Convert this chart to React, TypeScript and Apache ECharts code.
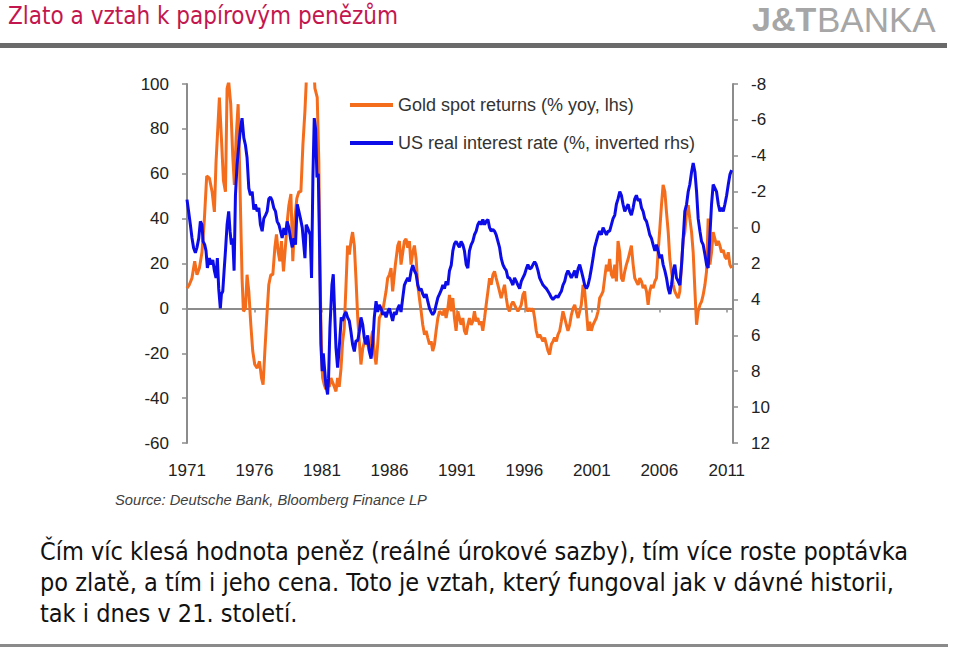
import React, { useEffect, useRef } from "react";
import * as echarts from "echarts";

const titleText = "Zlato a vztah k papírovým penězům";
const bodyLines = [
  "Čím víc klesá hodnota peněz (reálné úrokové sazby), tím více roste poptávka",
  "po zlatě, a tím i jeho cena. Toto je vztah, který fungoval jak v dávné historii,",
  "tak i dnes v 21. století.",
];
const sourceText = "Source: Deutsche Bank, Bloomberg Finance LP";
const goldName = "Gold spot returns (% yoy, lhs)";
const rateName = "US real interest rate (%, inverted rhs)";

const xTickYears = [1971, 1976, 1981, 1986, 1991, 1996, 2001, 2006, 2011];
const leftTicks = [-60, -40, -20, 0, 20, 40, 60, 80, 100];
const rightTicks = [-8, -6, -4, -2, 0, 2, 4, 6, 8, 10, 12];

// [year, % yoy]
const goldSeries: [number, number][] = [
  [1971.0, 9], [1971.17, 10.5], [1971.37, 13.5], [1971.57, 21], [1971.74, 15], [1971.92, 18],
  [1972.11, 25], [1972.29, 40], [1972.46, 59], [1972.66, 58], [1972.86, 52], [1973.03, 43],
  [1973.15, 65], [1973.28, 80], [1973.4, 94], [1973.55, 76], [1973.7, 57], [1973.85, 52],
  [1973.97, 98], [1974.09, 101], [1974.24, 91], [1974.39, 68], [1974.51, 55], [1974.64, 76],
  [1974.79, 91], [1974.89, 65], [1974.98, 40], [1975.08, 13.5], [1975.18, -1.3], [1975.33, 0],
  [1975.45, 15], [1975.58, 7.6], [1975.73, -7.3], [1975.87, -19], [1976.02, -25], [1976.2, -26.6],
  [1976.37, -23.6], [1976.52, -31], [1976.64, -34], [1976.77, -19], [1976.91, -4.3], [1977.06, 10.5],
  [1977.21, 15], [1977.36, 15], [1977.51, 27], [1977.63, 33], [1977.76, 25], [1977.88, 21],
  [1978.0, 30], [1978.15, 16.5], [1978.3, 28], [1978.45, 40], [1978.55, 46], [1978.7, 51],
  [1978.84, 21], [1978.99, 40], [1979.14, 49], [1979.29, 52], [1979.44, 52], [1979.59, 73],
  [1979.74, 88], [1979.83, 100], [1980.03, 130], [1980.23, 125], [1980.48, 98], [1980.65, 94],
  [1980.77, 65], [1980.85, 20], [1980.92, -5], [1981.0, -25], [1981.05, -31], [1981.17, -34],
  [1981.29, -36], [1981.42, -33], [1981.54, -35], [1981.67, -31], [1981.79, -33], [1981.92, -35],
  [1982.04, -37], [1982.16, -31], [1982.28, -35], [1982.41, -27], [1982.53, -15], [1982.65, -9],
  [1982.78, 10], [1982.9, 28], [1983.03, 24], [1983.15, 30], [1983.27, 34], [1983.4, 28],
  [1983.52, 13.5], [1983.65, -4], [1983.77, -15], [1983.89, -25], [1984.02, -18], [1984.14, -15],
  [1984.26, -13], [1984.39, -16], [1984.51, -19], [1984.64, -14], [1984.76, -10], [1984.88, -20],
  [1985.01, -25], [1985.13, -16], [1985.25, -4.3], [1985.5, -1.3], [1985.75, 7.6], [1985.87, 13.5],
  [1986.0, 15], [1986.12, 18], [1986.24, 7.6], [1986.44, 19.5], [1986.62, 28], [1986.74, 30],
  [1986.86, 19.5], [1986.99, 25], [1987.11, 30], [1987.23, 31], [1987.36, 27], [1987.48, 30],
  [1987.6, 19.5], [1987.73, 25], [1987.85, 28], [1987.98, 22], [1988.1, 10.5], [1988.22, 4.6],
  [1988.35, -1.3], [1988.47, -7.3], [1988.6, -11.7], [1988.72, -10], [1988.84, -13], [1988.97, -16],
  [1989.09, -14.7], [1989.21, -19], [1989.34, -16], [1989.46, -10], [1989.59, -4.3], [1989.71, -1.3],
  [1989.83, -2], [1989.96, -3], [1990.08, 0], [1990.2, -4.3], [1990.33, 0], [1990.45, 6],
  [1990.58, -1.3], [1990.7, 4.6], [1990.82, -4.3], [1990.94, -10], [1991.07, -1.3], [1991.19, -4.3],
  [1991.31, -7.3], [1991.44, -4.3], [1991.56, -10], [1991.69, -11.7], [1991.81, -7.3], [1991.93, -4.3],
  [1992.06, -7.3], [1992.18, -5.8], [1992.3, -1.3], [1992.43, -5.8], [1992.55, -4.3], [1992.68, -7.3],
  [1992.8, -5.8], [1992.92, -10], [1993.05, -4.3], [1993.17, 1.6], [1993.3, 7.6], [1993.42, 13.5],
  [1993.54, 10.5], [1993.67, 15], [1993.79, 16.5], [1993.91, 13.5], [1994.04, 10.5], [1994.16, 7.6],
  [1994.28, 4.6], [1994.41, 7.6], [1994.53, 10.5], [1994.66, 4.6], [1994.78, 0], [1994.9, -1.3],
  [1995.03, 1.6], [1995.15, 3], [1995.27, 1.6], [1995.4, 0], [1995.52, -1.3], [1995.65, 0],
  [1995.77, 1.6], [1995.89, 6], [1996.02, 7.6], [1996.14, 0], [1996.26, -1.3], [1996.39, 0],
  [1996.51, -1.3], [1996.64, 0], [1996.76, -4.3], [1996.88, -10], [1997.01, -13], [1997.13, -11.7],
  [1997.25, -13], [1997.38, -14.7], [1997.5, -13], [1997.63, -16], [1997.75, -19], [1997.87, -20.6],
  [1998.0, -16], [1998.12, -14.7], [1998.24, -13], [1998.37, -14.7], [1998.49, -11.7], [1998.62, -10],
  [1998.74, -5.8], [1998.86, -1.3], [1998.99, -4.3], [1999.11, -7.3], [1999.23, -10], [1999.36, -7.3],
  [1999.48, -3], [1999.61, 0], [1999.73, 1.6], [1999.85, -1.3], [1999.98, -4.3], [2000.1, -1.3],
  [2000.22, 1.6], [2000.35, 10.5], [2000.47, 7.6], [2000.6, -1.3], [2000.72, -10], [2000.84, -6],
  [2000.96, -10], [2001.09, -7.3], [2001.21, -5.8], [2001.33, -4.3], [2001.46, -1.3], [2001.58, 4.6],
  [2001.71, 6], [2001.83, 7.6], [2001.95, 13.5], [2002.08, 19.5], [2002.2, 16.5], [2002.32, 22],
  [2002.45, 15], [2002.57, 13.5], [2002.7, 19.5], [2002.82, 12], [2002.94, 30], [2003.07, 25],
  [2003.19, 13.5], [2003.31, 12], [2003.44, 16.5], [2003.56, 19.5], [2003.69, 22], [2003.81, 25],
  [2003.93, 28], [2004.06, 19.5], [2004.18, 13.5], [2004.3, 12], [2004.43, 10.5], [2004.55, 13.5],
  [2004.68, 12], [2004.8, 9], [2004.92, 10.5], [2005.05, 7.6], [2005.17, 1.6], [2005.29, 7.6],
  [2005.42, 10.5], [2005.54, 9], [2005.67, 12], [2005.79, 13.5], [2005.91, 25], [2006.04, 35.8],
  [2006.16, 46], [2006.28, 55], [2006.41, 52], [2006.53, 43], [2006.66, 34], [2006.78, 22],
  [2006.9, 16.5], [2007.03, 10.5], [2007.15, 7.6], [2007.27, 6], [2007.4, 4.6], [2007.52, 7.6],
  [2007.65, 19.5], [2007.77, 31], [2007.89, 34], [2008.02, 43], [2008.14, 46], [2008.26, 40],
  [2008.39, 34], [2008.51, 25], [2008.64, 7.6], [2008.76, -7.3], [2008.88, -1.3], [2009.01, 1.6],
  [2009.13, 3], [2009.25, 6], [2009.38, 10.5], [2009.5, 16.5], [2009.62, 40], [2009.75, 19.5],
  [2009.87, 25], [2009.99, 34], [2010.12, 31], [2010.24, 28], [2010.37, 30], [2010.49, 28],
  [2010.61, 25], [2010.74, 26], [2010.86, 23], [2010.99, 22], [2011.11, 25], [2011.23, 19.5],
  [2011.36, 18],
];

// [year, real rate %] plotted on the inverted right axis
const rateSeries: [number, number][] = [
  [1971.0, -1.56], [1971.12, -0.9], [1971.25, -0.16], [1971.37, 0.58], [1971.49, 1.14], [1971.62, 1.4],
  [1971.74, 1.1], [1971.87, 0.6], [1971.99, -0.35], [1972.11, -0.16], [1972.19, 0.77], [1972.31, 0.95],
  [1972.41, 1.3], [1972.51, 2.25], [1972.66, 1.7], [1972.78, 2.06], [1972.91, 1.8], [1973.03, 2.4],
  [1973.15, 2.8], [1973.25, 1.7], [1973.35, 3.4], [1973.47, 4.5], [1973.55, 3.7], [1973.65, 3.55],
  [1973.75, 2.4], [1973.85, 1.3], [1973.97, -0.16], [1974.09, -0.9], [1974.19, 0.2], [1974.29, 0.95],
  [1974.39, 0.6], [1974.49, 2.4], [1974.59, -1.8], [1974.71, -3.5], [1974.84, -4.6], [1974.96, -5.5],
  [1975.08, -6.1], [1975.21, -5.0], [1975.33, -4.6], [1975.45, -3.9], [1975.58, -2.2], [1975.7, -1.8],
  [1975.83, -2.0], [1975.95, -1.0], [1976.07, -1.3], [1976.2, -0.9], [1976.32, -1.1], [1976.44, -0.16],
  [1976.57, 0.2], [1976.69, -0.5], [1976.82, -0.7], [1976.94, -0.9], [1977.06, -1.6], [1977.19, -1.7],
  [1977.31, -1.5], [1977.43, -1.1], [1977.56, -0.9], [1977.68, -0.35], [1977.81, -0.16], [1977.93, 0.2],
  [1978.05, 0.58], [1978.18, 0.02], [1978.3, 0.4], [1978.42, -0.35], [1978.55, 0.0], [1978.67, 0.6],
  [1978.8, 1.1], [1978.92, 0.6], [1979.04, 0.95], [1979.17, -1.3], [1979.29, -0.9], [1979.41, -0.5],
  [1979.54, 0], [1979.61, 0.6], [1979.74, 1.7], [1979.83, -0.16], [1979.93, 0.0], [1980.03, 0.2],
  [1980.13, 0.4], [1980.23, 2.8], [1980.33, -2.8], [1980.43, -6.1], [1980.53, -5.5], [1980.63, -2.8],
  [1980.73, -3.0], [1980.82, 0.95], [1980.92, 6.5], [1981.02, 8.0], [1981.1, 7.0], [1981.29, 8.75],
  [1981.42, 9.3], [1981.49, 8.4], [1981.59, 5.6], [1981.74, 3.2], [1981.84, 2.6], [1981.94, 4.7],
  [1982.04, 6.7], [1982.16, 7.8], [1982.24, 7.1], [1982.33, 6.15], [1982.43, 5.0], [1982.53, 5.2],
  [1982.66, 4.85], [1982.78, 4.7], [1982.9, 5.0], [1983.03, 5.2], [1983.15, 5.8], [1983.27, 6.5],
  [1983.4, 6.9], [1983.52, 6.3], [1983.65, 6.3], [1983.77, 5.8], [1983.89, 5.0], [1984.02, 5.4],
  [1984.14, 6.15], [1984.26, 6.5], [1984.39, 6.0], [1984.51, 6.9], [1984.64, 7.3], [1984.76, 6.5],
  [1984.88, 5.0], [1985.01, 4.1], [1985.13, 4.7], [1985.25, 4.3], [1985.38, 4.5], [1985.5, 4.85],
  [1985.63, 4.7], [1985.75, 5.0], [1985.87, 4.7], [1986.0, 4.5], [1986.12, 4.85], [1986.24, 5.2],
  [1986.37, 4.7], [1986.49, 4.85], [1986.62, 4.5], [1986.74, 4.3], [1986.86, 4.7], [1986.99, 3.9],
  [1987.11, 3.2], [1987.23, 3.0], [1987.36, 2.8], [1987.48, 3.0], [1987.61, 2.4], [1987.73, 2.1],
  [1987.85, 2.4], [1987.98, 2.6], [1988.1, 3.2], [1988.22, 3.5], [1988.35, 3.4], [1988.47, 3.7],
  [1988.6, 3.9], [1988.72, 3.7], [1988.84, 4.1], [1988.97, 4.5], [1989.09, 4.7], [1989.21, 4.85],
  [1989.34, 4.7], [1989.46, 4.3], [1989.59, 3.9], [1989.71, 3.7], [1989.83, 3.5], [1989.96, 3.2],
  [1990.08, 3.4], [1990.2, 3.0], [1990.33, 3.2], [1990.45, 2.4], [1990.58, 2.1], [1990.7, 1.3],
  [1990.82, 0.9], [1990.94, 0.77], [1991.07, 0.95], [1991.19, 1.1], [1991.31, 0.77], [1991.44, 0.95],
  [1991.56, 1.3], [1991.69, 2.06], [1991.81, 2.25], [1991.93, 1.3], [1992.06, 0.95], [1992.18, 0.77],
  [1992.3, 0.4], [1992.43, 0.2], [1992.55, -0.16], [1992.68, -0.35], [1992.8, -0.16], [1992.92, -0.45],
  [1993.05, -0.16], [1993.17, -0.35], [1993.3, -0.45], [1993.42, 0.0], [1993.54, 0.2], [1993.67, 0.1],
  [1993.79, 0.2], [1993.91, 0.4], [1994.04, 0.77], [1994.16, 1.1], [1994.28, 1.7], [1994.41, 2.06],
  [1994.53, 2.25], [1994.66, 2.4], [1994.78, 2.8], [1994.9, 2.8], [1995.03, 3.0], [1995.15, 3.2],
  [1995.27, 2.8], [1995.4, 3.0], [1995.52, 3.2], [1995.65, 3.4], [1995.77, 3.0], [1995.89, 2.8],
  [1996.02, 2.6], [1996.14, 2.3], [1996.26, 2.06], [1996.39, 2.3], [1996.51, 2.25], [1996.64, 2.06],
  [1996.76, 1.9], [1996.88, 2.06], [1997.01, 2.4], [1997.13, 2.8], [1997.25, 3.0], [1997.38, 3.2],
  [1997.5, 3.3], [1997.63, 3.4], [1997.75, 3.55], [1997.87, 3.7], [1998.0, 3.9], [1998.12, 4.0],
  [1998.24, 3.9], [1998.37, 3.8], [1998.49, 3.9], [1998.62, 3.7], [1998.74, 3.55], [1998.86, 3.2],
  [1998.99, 3.0], [1999.11, 2.6], [1999.23, 2.4], [1999.36, 2.6], [1999.48, 2.8], [1999.61, 2.6],
  [1999.73, 2.4], [1999.85, 2.8], [1999.98, 2.3], [2000.1, 2.06], [2000.22, 2.4], [2000.35, 2.8],
  [2000.47, 3.2], [2000.6, 3.4], [2000.72, 3.2], [2000.84, 2.8], [2000.96, 2.3], [2001.09, 1.7],
  [2001.21, 1.1], [2001.33, 0.77], [2001.46, 0.4], [2001.58, 0.2], [2001.71, 0.4], [2001.83, 0],
  [2001.95, 0.2], [2002.08, 0.4], [2002.2, 0.2], [2002.32, 0.2], [2002.45, -0.16], [2002.57, -0.5],
  [2002.7, -0.7], [2002.82, -1.3], [2002.94, -1.6], [2003.07, -2.0], [2003.19, -1.8], [2003.31, -1.3],
  [2003.44, -0.9], [2003.56, -1.1], [2003.69, -1.3], [2003.81, -0.9], [2003.93, -0.7], [2004.06, -1.1],
  [2004.18, -1.6], [2004.3, -1.8], [2004.43, -1.5], [2004.55, -1.6], [2004.68, -1.1], [2004.8, -0.9],
  [2004.92, -0.5], [2005.05, -0.35], [2005.17, 0.0], [2005.29, 0.4], [2005.42, 0.6], [2005.54, 0.95],
  [2005.67, 1.3], [2005.79, 0.95], [2005.91, 1.3], [2006.04, 1.7], [2006.16, 1.5], [2006.28, 2.06],
  [2006.41, 2.4], [2006.53, 2.8], [2006.66, 3.4], [2006.78, 3.7], [2006.9, 3.2], [2007.03, 2.4],
  [2007.15, 2.06], [2007.27, 2.8], [2007.4, 3.0], [2007.52, 3.2], [2007.65, 2.06], [2007.77, 0.6],
  [2007.89, -0.9], [2008.02, -1.3], [2008.14, -2.0], [2008.26, -2.4], [2008.39, -3.1], [2008.51, -3.6],
  [2008.64, -3.1], [2008.76, -2.0], [2008.88, -0.5], [2009.01, 0.2], [2009.13, 0.77], [2009.25, 0.95],
  [2009.38, 1.5], [2009.5, 2.06], [2009.62, 2.25], [2009.75, 0.4], [2009.87, -1.3], [2009.99, -2.4],
  [2010.12, -2.2], [2010.24, -2.0], [2010.37, -1.3], [2010.49, -0.9], [2010.61, -1.1], [2010.74, -0.9],
  [2010.86, -1.3], [2010.99, -1.8], [2011.11, -2.4], [2011.23, -2.95], [2011.36, -3.2],
];

const AXIS_GRAY = "#8c8c8c";
const LABEL_FONT = "'Liberation Sans', Arial, sans-serif";
const COND_FONT = "'DejaVu Sans Condensed', 'Liberation Sans Narrow', 'DejaVu Sans', sans-serif";

export default function App() {
  const ref = useRef<HTMLDivElement>(null);

  useEffect(() => {
    if (!ref.current) return;
    const chart = echarts.init(ref.current, undefined, { renderer: "svg" });
    const xMin = xTickYears[0];
    const xMax = 2011.46;
    const xStep = xTickYears[1] - xTickYears[0];

    const option: any = {
      animation: false,
      backgroundColor: "#ffffff",
      grid: { left: 187, right: 227, top: 84, bottom: 205, containLabel: false },
      legend: {
        orient: "vertical",
        left: 350,
        top: 96,
        padding: 0,
        itemWidth: 43,
        itemHeight: 4,
        itemGap: 20,
        icon: "rect",
        selectedMode: false,
        textStyle: { fontSize: 18, color: "#333333", fontFamily: LABEL_FONT },
        data: [goldName, rateName],
      },
      xAxis: [
        {
          type: "value",
          min: xMin,
          max: xMax,
          interval: xStep,
          position: "bottom",
          axisLine: { show: false, onZero: false },
          axisTick: { show: false },
          splitLine: { show: false },
          axisLabel: {
            margin: 19,
            fontSize: 17,
            color: "#222222",
            fontFamily: LABEL_FONT,
            formatter: (v: number) => (xTickYears.includes(Math.round(v * 100) / 100) ? String(v) : ""),
          },
        },
        {
          type: "value",
          min: xMin,
          max: xMax,
          interval: xStep,
          position: "bottom",
          axisLine: { show: true, onZero: true, onZeroAxisIndex: 0, lineStyle: { color: AXIS_GRAY, width: 2 } },
          axisTick: { show: true, length: 4, lineStyle: { color: AXIS_GRAY, width: 1.5 } },
          axisLabel: { show: false },
          splitLine: { show: false },
        },
      ],
      yAxis: [
        {
          type: "value",
          position: "left",
          min: leftTicks[0],
          max: leftTicks[leftTicks.length - 1],
          interval: leftTicks[1] - leftTicks[0],
          axisLine: { show: true, lineStyle: { color: AXIS_GRAY, width: 2 } },
          axisTick: { show: true, length: 5, lineStyle: { color: AXIS_GRAY, width: 1.5 } },
          splitLine: { show: false },
          axisLabel: { margin: 18, fontSize: 17, color: "#222222", fontFamily: LABEL_FONT },
        },
        {
          type: "value",
          position: "right",
          inverse: true,
          min: rightTicks[0],
          max: rightTicks[rightTicks.length - 1],
          interval: rightTicks[1] - rightTicks[0],
          axisLine: { show: true, lineStyle: { color: AXIS_GRAY, width: 2 } },
          axisTick: { show: true, length: 5, lineStyle: { color: AXIS_GRAY, width: 1.5 } },
          splitLine: { show: false },
          axisLabel: { margin: 18, fontSize: 17, color: "#222222", fontFamily: LABEL_FONT },
        },
      ],
      series: [
        {
          name: goldName,
          type: "line",
          xAxisIndex: 0,
          yAxisIndex: 0,
          data: goldSeries,
          showSymbol: false,
          symbol: "none",
          lineStyle: { color: "#f46d1c", width: 3 },
          itemStyle: { color: "#f46d1c" },
          clip: true,
          z: 2,
        },
        {
          name: rateName,
          type: "line",
          xAxisIndex: 0,
          yAxisIndex: 1,
          data: rateSeries,
          showSymbol: false,
          symbol: "none",
          lineStyle: { color: "#0c0ce8", width: 3 },
          itemStyle: { color: "#0c0ce8" },
          clip: true,
          z: 3,
        },
      ],
      graphic: [
        {
          type: "text",
          x: 8,
          y: 16,
          style: {
            text: titleText,
            fill: "#c4164e",
            fontSize: 24,
            fontFamily: COND_FONT,
            verticalAlign: "middle",
          },
        },
        {
          type: "text",
          x: 752,
          y: 19,
          style: {
            text: "J&T",
            fill: "#a6a6a6",
            fontSize: 34,
            fontWeight: "bold",
            fontFamily: LABEL_FONT,
            verticalAlign: "middle",
          },
        },
        {
          type: "text",
          x: 817,
          y: 19,
          style: {
            text: "BANKA",
            fill: "#a6a6a6",
            fontSize: 35,
            fontFamily: LABEL_FONT,
            verticalAlign: "middle",
          },
        },
        { type: "rect", shape: { x: 0, y: 43, width: 947, height: 5 }, style: { fill: "#6a6a6a" } },
        {
          type: "text",
          x: 115,
          y: 500,
          style: {
            text: sourceText,
            fill: "#404040",
            fontSize: 14.7,
            fontStyle: "italic",
            fontFamily: LABEL_FONT,
            verticalAlign: "middle",
          },
        },
        ...bodyLines.map((t, i) => ({
          type: "text",
          x: 40,
          y: 551 + i * 31,
          style: { text: t, fill: "#111111", fontSize: 25, fontFamily: COND_FONT, verticalAlign: "middle" },
        })),
        { type: "rect", shape: { x: 0, y: 644, width: 948, height: 3 }, style: { fill: "#8a8a8a" } },
      ],
    };
    chart.setOption(option);
    return () => chart.dispose();
  }, []);

  return (
    <div
      ref={ref}
      style={{ position: "fixed", left: 0, top: 0, width: 960, height: 648, background: "#fff" }}
    />
  );
}
